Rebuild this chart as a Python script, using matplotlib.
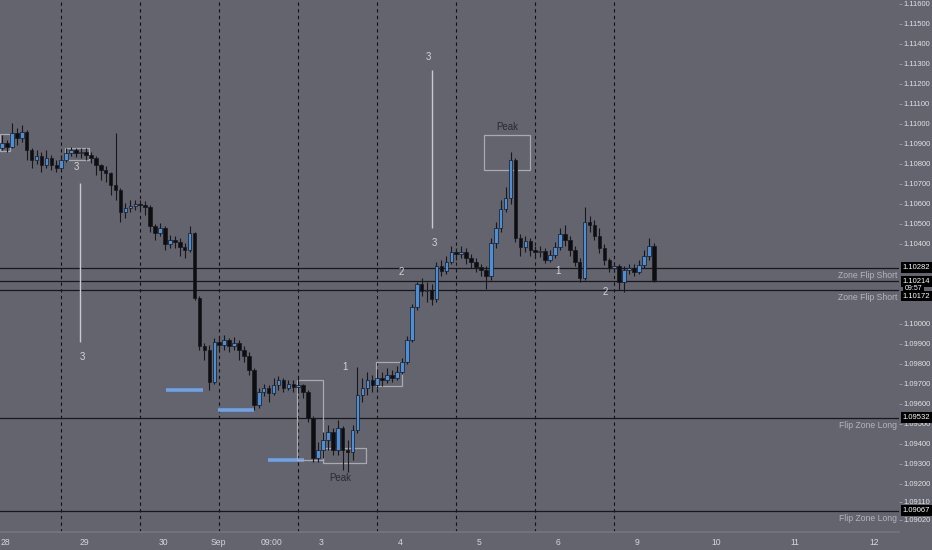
import matplotlib
matplotlib.use("Agg")
import matplotlib.pyplot as plt
import matplotlib.transforms as mtransforms
from matplotlib.patches import Rectangle

plt.rcParams['font.family'] = ['Liberation Sans', 'DejaVu Sans']

# ---- data (prices) ----
first_open = 1.10880
closes = [
    1.10905, 1.10885, 1.10955, 1.10930, 1.10960, 1.10870, 1.10820, 1.10840, 1.10795, 1.10830,
    1.10795, 1.10780, 1.10820, 1.10855, 1.10870, 1.10855, 1.10860, 1.10845, 1.10830, 1.10795,
    1.10770, 1.10755, 1.10695, 1.10670, 1.10560, 1.10580, 1.10590, 1.10600, 1.10595, 1.10585,
    1.10490, 1.10455, 1.10480, 1.10400, 1.10420, 1.10410, 1.10385, 1.10370, 1.10455, 1.10130,
    1.09890, 1.09870, 1.09710, 1.09910, 1.09895, 1.09920, 1.09890, 1.09905, 1.09870, 1.09840,
    1.09770, 1.09595, 1.09660, 1.09680, 1.09655, 1.09695, 1.09720, 1.09680, 1.09700, 1.09685,
    1.09695, 1.09660, 1.09530, 1.09330, 1.09370, 1.09420, 1.09460, 1.09370, 1.09480, 1.09370,
    1.09360, 1.09470, 1.09645, 1.09680, 1.09720, 1.09695, 1.09730, 1.09720, 1.09745, 1.09730,
    1.09760, 1.09810, 1.09920, 1.10085, 1.10200, 1.10165, 1.10170, 1.10125, 1.10290, 1.10265,
    1.10310, 1.10360, 1.10350, 1.10360, 1.10330, 1.10310, 1.10285, 1.10270, 1.10240, 1.10405,
    1.10480, 1.10575, 1.10630, 1.10820, 1.10430, 1.10385, 1.10415, 1.10370, 1.10360, 1.10365,
    1.10320, 1.10345, 1.10385, 1.10450, 1.10420, 1.10370, 1.10310, 1.10230, 1.10510, 1.10495,
    1.10440, 1.10380, 1.10320, 1.10280, 1.10290, 1.10210, 1.10270, 1.10280, 1.10260, 1.10295,
    1.10340, 1.10390, 1.10220,
]
highs = [
    1.10945, 1.10920, 1.11005, 1.10980, 1.10995, 1.10970, 1.10880, 1.10870, 1.10860, 1.10870,
    1.10845, 1.10820, 1.10845, 1.10880, 1.10885, 1.10880, 1.10880, 1.10880, 1.10860, 1.10840,
    1.10800, 1.10790, 1.10760, 1.10955, 1.10680, 1.10605, 1.10620, 1.10620, 1.10620, 1.10615,
    1.10595, 1.10500, 1.10505, 1.10490, 1.10445, 1.10440, 1.10430, 1.10405, 1.10490, 1.10460,
    1.10140, 1.09905, 1.09895, 1.09930, 1.09940, 1.09945, 1.09930, 1.09935, 1.09920, 1.09890,
    1.09860, 1.09780, 1.09680, 1.09700, 1.09695, 1.09730, 1.09740, 1.09730, 1.09720, 1.09720,
    1.09730, 1.09700, 1.09670, 1.09540, 1.09410, 1.09460, 1.09495, 1.09480, 1.09520, 1.09490,
    1.09420, 1.09495, 1.09785, 1.09730, 1.09760, 1.09745, 1.09770, 1.09760, 1.09780, 1.09770,
    1.09790, 1.09830, 1.09940, 1.10100, 1.10210, 1.10230, 1.10210, 1.10200, 1.10310, 1.10320,
    1.10340, 1.10390, 1.10380, 1.10390, 1.10380, 1.10350, 1.10330, 1.10300, 1.10290, 1.10430,
    1.10510, 1.10620, 1.10685, 1.10860, 1.10830, 1.10450, 1.10440, 1.10430, 1.10390, 1.10390,
    1.10380, 1.10370, 1.10410, 1.10480, 1.10495, 1.10440, 1.10390, 1.10330, 1.10585, 1.10540,
    1.10520, 1.10480, 1.10400, 1.10330, 1.10310, 1.10300, 1.10290, 1.10300, 1.10300, 1.10320,
    1.10370, 1.10430, 1.10405,
]
lows = [
    1.10870, 1.10860, 1.10880, 1.10895, 1.10910, 1.10820, 1.10780, 1.10800, 1.10760, 1.10780,
    1.10770, 1.10760, 1.10780, 1.10810, 1.10840, 1.10835, 1.10830, 1.10820, 1.10805, 1.10745,
    1.10720, 1.10710, 1.10645, 1.10620, 1.10510, 1.10530, 1.10560, 1.10570, 1.10570, 1.10545,
    1.10460, 1.10420, 1.10440, 1.10370, 1.10380, 1.10380, 1.10340, 1.10330, 1.10360, 1.10120,
    1.09870, 1.09820, 1.09670, 1.09700, 1.09860, 1.09870, 1.09860, 1.09870, 1.09820, 1.09810,
    1.09745, 1.09570, 1.09580, 1.09640, 1.09610, 1.09645, 1.09670, 1.09660, 1.09670, 1.09660,
    1.09655, 1.09630, 1.09510, 1.09310, 1.09310, 1.09330, 1.09370, 1.09345, 1.09345, 1.09270,
    1.09260, 1.09320, 1.09455, 1.09610, 1.09645, 1.09660, 1.09680, 1.09690, 1.09705, 1.09710,
    1.09720, 1.09750, 1.09800, 1.09910, 1.10070, 1.10140, 1.10110, 1.10095, 1.10110, 1.10240,
    1.10250, 1.10300, 1.10320, 1.10330, 1.10300, 1.10280, 1.10260, 1.10240, 1.10175, 1.10220,
    1.10380, 1.10460, 1.10560, 1.10600, 1.10410, 1.10340, 1.10360, 1.10340, 1.10330, 1.10335,
    1.10305, 1.10310, 1.10330, 1.10370, 1.10390, 1.10340, 1.10290, 1.10210, 1.10220, 1.10460,
    1.10420, 1.10355, 1.10295, 1.10260, 1.10260, 1.10170, 1.10160, 1.10250, 1.10240, 1.10250,
    1.10280, 1.10320, 1.10210,
]

# chart time axis in days from Aug 28, one bar = 1.5 h
bar_start = -0.038
bar_period = 1 / 16

day_ticks = [0, 1, 2, 2.7, 3.37, 4, 5, 6, 7, 8, 9, 10, 11]
day_labels = ['28', '29', '30', 'Sep', '09:00', '3', '4', '5', '6', '9', '10', '11', '12']
session_lines = [0.71, 1.71, 2.71, 3.71, 4.71, 5.71, 6.71, 7.71]

price_ticks = [1.116, 1.115, 1.114, 1.113, 1.112, 1.111, 1.110, 1.109, 1.108, 1.107,
               1.106, 1.105, 1.104, 1.100, 1.099, 1.098, 1.097, 1.096, 1.095, 1.094,
               1.093, 1.092, 1.0911, 1.0902]

levels = [1.10282, 1.10214, 1.10172, 1.09532, 1.09067]
level_names = ['Zone Flip Short', None, 'Zone Flip Short', 'Flip Zone Long', 'Flip Zone Long']

blue_levels = [1.0967, 1.0957, 1.0932]
blue_spans = [(2.04, 2.51), (2.70, 3.15), (3.33, 3.78)]

boxes = [(-0.063, 0.063, 1.10865, 1.1095),
         (0.76, 1.063, 1.1082, 1.1088),
         (3.696, 4.025, 1.0932, 1.0972),
         (4.025, 4.57, 1.09305, 1.0938),
         (4.696, 5.025, 1.0969, 1.0981),
         (6.063, 6.646, 1.1077, 1.10945)]

bg = '#63646e'
up_col = '#4a8fd8'
down_col = '#0e0e12'
dark = '#17171c'

fig = plt.figure(figsize=(9.32, 5.5), dpi=100, facecolor=bg)
ax = fig.add_axes([0, 18 / 550, 899 / 932, 532 / 550], facecolor=bg)

# candles
opens = [first_open] + closes[:-1]
xs = [bar_start + i * bar_period for i in range(len(closes))]
ax.vlines(xs, lows, highs, color=dark, lw=0.8, zorder=3)
bottoms = [min(o, c) for o, c in zip(opens, closes)]
heights = [max(abs(c - o), 0.00002) for o, c in zip(opens, closes)]
cols = [up_col if c >= o else down_col for o, c in zip(opens, closes)]
ax.bar(xs, heights, bottom=bottoms, width=bar_period * 0.72, color=cols,
       edgecolor=dark, linewidth=0.5, zorder=4)

# session separators
for d in session_lines:
    ax.axvline(d, color='#111115', lw=0.8, ls=(0, (3, 3)), zorder=1)

# horizontal levels
tr = mtransforms.blended_transform_factory(ax.transAxes, ax.transData)
for lv, name in zip(levels, level_names):
    ax.axhline(lv, color=dark, lw=0.9, zorder=2)
    if name:
        ax.annotate(name, (0.9978, lv), xycoords=tr, xytext=(0, -2.5),
                    textcoords='offset points', ha='right', va='top',
                    fontsize=6.2, color='#b4b4bc')

# blue short lines
for lv, (a, b) in zip(blue_levels, blue_spans):
    ax.hlines(lv, a, b, color='#6ea2e6', lw=2.6, zorder=2)

# rectangles
for x0, x1, y0, y1 in boxes:
    ax.add_patch(Rectangle((x0, y0), x1 - x0, y1 - y0, fill=False,
                           edgecolor='#a9a9b2', lw=0.9, zorder=2))

# white vertical measures
ax.vlines([0.949, 5.405], [1.0991, 1.1048], [1.10705, 1.1127], color='#c9c9ce', lw=1.0, zorder=2)

lbl = dict(fontsize=7, color='#d4d4d8', ha='center', va='center', zorder=5)
ax.text(0.899, 1.10785, '3', **lbl)
ax.text(0.975, 1.09835, '3', **lbl)
ax.text(5.354, 1.11335, '3', **lbl)
ax.text(5.43, 1.10405, '3', **lbl)
ax.text(5.013, 1.1026, '2', **lbl)
ax.text(4.304, 1.09785, '1', **lbl)
ax.text(7.0, 1.10265, '1', **lbl)
ax.text(7.595, 1.1016, '2', **lbl)
ax.text(6.354, 1.10985, 'Peak', fontsize=7, color='#2a2a30', ha='center', va='center')
ax.text(4.24, 1.0923, 'Peak', fontsize=7, color='#2a2a30', ha='center', va='center')

# axes
ax.set_xlim(-5 / 79, 894 / 79)
ax.set_ylim(1.0896, 1.1162)
ax.set_xticks(day_ticks)
ax.set_xticklabels(day_labels)
ax.tick_params(axis='x', length=0, pad=4, labelsize=6.2, labelcolor='#d6d6da')
ax.yaxis.tick_right()
ax.set_yticks(price_ticks)
ax.set_yticklabels(['%.5f' % p for p in price_ticks])
ax.tick_params(axis='y', length=2, width=0.6, color='#9a9aa2', pad=1.5,
               labelsize=5.5, labelcolor='#e2e2e6')
for s in ['top', 'left', 'right']:
    ax.spines[s].set_visible(False)
ax.spines['bottom'].set_color('#74757f')
ax.spines['bottom'].set_linewidth(1.2)

# price boxes on the scale
box_kw = dict(transform=tr, ha='left', va='center', fontsize=5.5, color='white',
              clip_on=False, zorder=6,
              bbox=dict(boxstyle='square,pad=0.25', fc='black', ec='none'))
ax.text(1.004, 1.10282, '1.10282', **box_kw)
ax.text(1.004, 1.10214, '1.10214', **box_kw)
ax.text(1.006, 1.10175, '09:57', **dict(box_kw, fontsize=5))
ax.text(1.004, 1.1014, '1.10172', **box_kw)
ax.text(1.004, 1.09532, '1.09532', **box_kw)
ax.text(1.004, 1.09067, '1.09067', **box_kw)

fig.savefig('out.png', dpi=100, facecolor=bg)
